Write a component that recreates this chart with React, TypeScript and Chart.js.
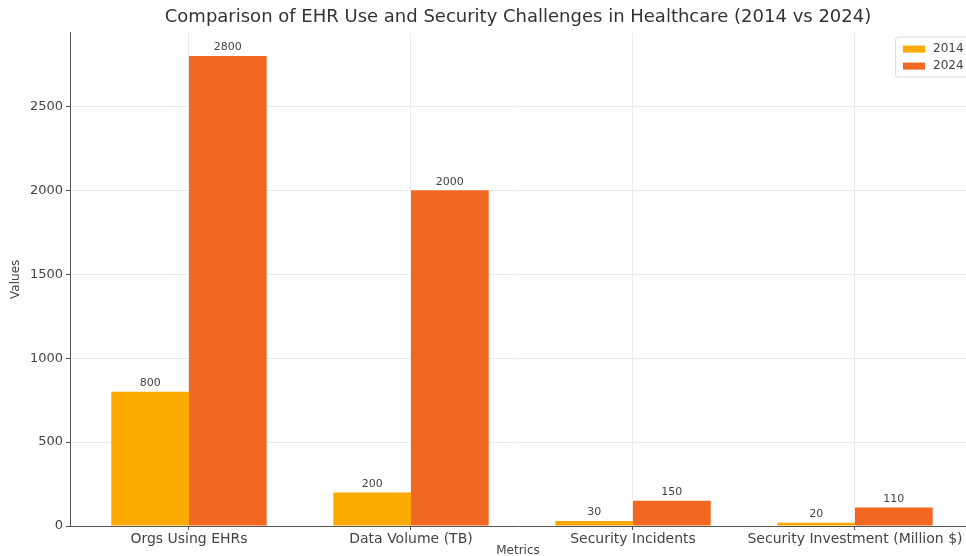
import React, { useEffect, useRef } from "react";
import { Chart, registerables } from "chart.js";

Chart.register(...registerables);

const categories = ["Orgs Using EHRs", "Data Volume (TB)", "Security Incidents", "Security Investment (Million $)"];
const values2014 = [800, 200, 30, 20];
const values2024 = [2800, 2000, 150, 110];
const seriesNames = ["2014", "2024"];
const yTicks = [0, 500, 1000, 1500, 2000, 2500];

const COLOR_2014 = "#FDAA00";
const COLOR_2024 = "#F26822";
const FONT = "'DejaVu Sans', sans-serif";

const barLabelPlugin = {
  id: "barLabels",
  afterDatasetsDraw(chart: any) {
    const ctx = chart.ctx;
    ctx.save();
    ctx.font = `11px ${FONT}`;
    ctx.fillStyle = "#444";
    ctx.textAlign = "center";
    ctx.textBaseline = "bottom";
    chart.data.datasets.forEach((ds: any, i: number) => {
      const meta = chart.getDatasetMeta(i);
      meta.data.forEach((el: any, j: number) => {
        const v = ds.data[j].y;
        ctx.fillText(String(v), el.x, el.y - 3);
      });
    });
    ctx.restore();
  },
};

const legendPlugin = {
  id: "customLegend",
  afterDraw(chart: any) {
    const ctx = chart.ctx;
    const area = chart.chartArea;
    const x0 = area.right - 71;
    const y0 = area.top + 4;
    ctx.save();
    ctx.fillStyle = "rgba(255,255,255,0.85)";
    ctx.strokeStyle = "#dddddd";
    ctx.lineWidth = 1;
    ctx.beginPath();
    ctx.roundRect(x0 + 0.5, y0 + 0.5, 84, 40, 3);
    ctx.fill();
    ctx.stroke();
    const colors = [COLOR_2014, COLOR_2024];
    ctx.font = `12px ${FONT}`;
    ctx.textBaseline = "middle";
    ctx.textAlign = "left";
    seriesNames.forEach((name, i) => {
      const cy = y0 + 12 + i * 17;
      ctx.fillStyle = colors[i];
      ctx.fillRect(x0 + 8, cy - 3, 22, 7);
      ctx.fillStyle = "#444";
      ctx.fillText(name, x0 + 38, cy);
    });
    ctx.restore();
  },
};

export default function App() {
  const ref = useRef<HTMLCanvasElement | null>(null);
  useEffect(() => {
    document.body.style.margin = "0";
    const canvas = ref.current!;
    const chart = new Chart(canvas, {
      type: "bar",
      data: {
        datasets: [
          {
            label: seriesNames[0],
            data: values2014.map((v, i) => ({ x: i, y: v })),
            backgroundColor: COLOR_2014,
            borderWidth: 0,
          },
          {
            label: seriesNames[1],
            data: values2024.map((v, i) => ({ x: i, y: v })),
            backgroundColor: COLOR_2024,
            borderWidth: 0,
          },
        ],
      },
      plugins: [barLabelPlugin, legendPlugin],
      options: {
        responsive: false,
        animation: false,
        devicePixelRatio: 1,
        layout: { padding: { left: 0, right: 0, top: 0, bottom: 0 } },
        datasets: { bar: { categoryPercentage: 0.7, barPercentage: 1.0 } } as any,
        plugins: {
          legend: { display: false },
          tooltip: { enabled: false },
          title: {
            display: true,
            text: "Comparison of EHR Use and Security Challenges in Healthcare (2014 vs 2024)",
            color: "#333",
            font: { family: FONT, size: 18, weight: "normal" },
            padding: { top: 7, bottom: 4 },
            fullSize: false,
          } as any,
        },
        scales: {
          x: {
            type: "linear",
            min: -0.536,
            max: 3.5,
            offset: false,
            afterBuildTicks: (scale: any) => {
              scale.ticks = categories.map((_, i) => ({ value: i }));
            },
            afterFit: (scale: any) => {
              scale.height = 30;
            },
            ticks: {
              callback: (v: any) => categories[v] ?? "",
              color: "#444",
              font: { family: FONT, size: 14 },
              padding: 1,
              maxRotation: 0,
              autoSkip: false,
              includeBounds: false,
            },
            grid: { offset: false, color: "#ebebeb", lineWidth: 1, drawTicks: true, tickLength: 4, tickColor: "#555" },
            border: { display: true, color: "#555", width: 1 },
            title: {
              display: true,
              text: "Metrics",
              color: "#444",
              font: { family: FONT, size: 12 },
              padding: { top: 0, bottom: -2 },
            },
          },
          y: {
            type: "linear",
            min: 0,
            max: 2940,
            afterBuildTicks: (scale: any) => {
              scale.ticks = yTicks.map((v) => ({ value: v }));
            },
            afterFit: (scale: any) => {
              scale.width = 70;
            },
            ticks: {
              callback: (v: any) => String(v),
              color: "#444",
              font: { family: FONT, size: 13 },
              padding: 3,
              includeBounds: false,
            },
            grid: { color: "#ebebeb", lineWidth: 1, drawTicks: true, tickLength: 4, tickColor: "#555" },
            border: { display: true, color: "#555", width: 1 },
            title: {
              display: true,
              text: "Values",
              color: "#444",
              font: { family: FONT, size: 12 },
              padding: { top: 9, bottom: 0 },
            },
          },
        },
      } as any,
    });
    return () => chart.destroy();
  }, []);
  return (
    <div style={{ width: 966, height: 556 }}>
      <canvas ref={ref} width={966} height={556} style={{ display: "block" }} />
    </div>
  );
}
